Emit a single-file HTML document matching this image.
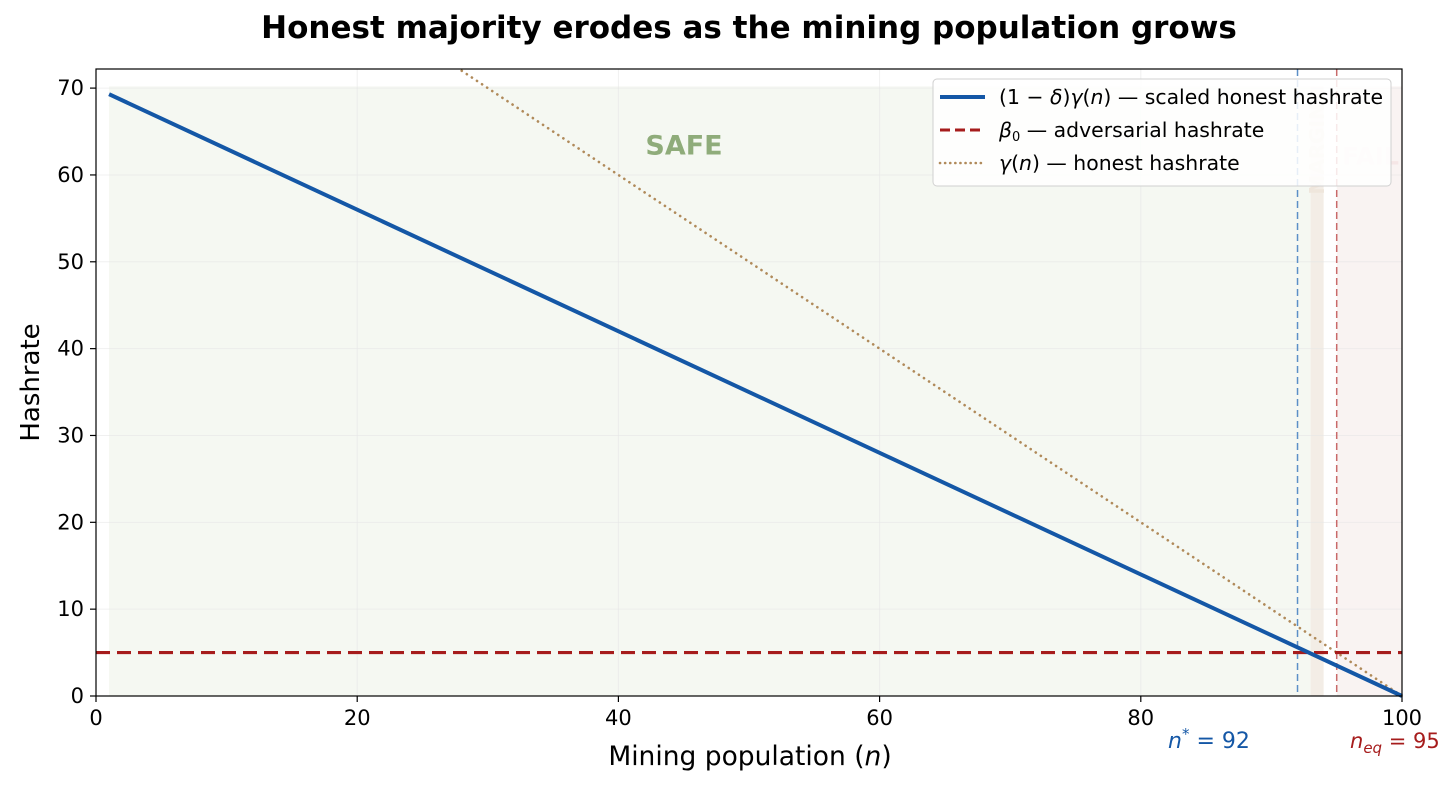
<!DOCTYPE html>
<html><head><meta charset="utf-8"><style>
body{margin:0;background:#fff;font-family:"DejaVu Sans","Liberation Sans",sans-serif}
svg text{font-family:"DejaVu Sans","Liberation Sans",sans-serif}
</style></head><body>
<svg id="c" width="1456" height="788" xmlns="http://www.w3.org/2000/svg"></svg>
<script>
const nVals=[1,100];
const scaledHonest=[69.3,0];
const gammaN=[0,28,100];
const gammaVals=[100,72,0];
const beta0=5;
const nStar=92, nEq=95;
const xTicks=[0,20,40,60,80,100];
const yTicks=[0,10,20,30,40,50,60,70];
const L=96,R=1402,T=69,B=696,XMAX=100,YMAX=72.2;
const X=v=>L+(v/XMAX)*(R-L), Y=v=>B-(v/YMAX)*(B-T);
const s=document.getElementById('c');const NS='http://www.w3.org/2000/svg';
function el(t,a,txt){const e=document.createElementNS(NS,t);for(const k in a)e.setAttribute(k,a[k]);if(txt!=null)e.textContent=txt;s.appendChild(e);return e;}
let e;
e=el('rect',{x:X(1),y:Y(70.2),width:X(93)-X(1),height:Y(0)-Y(70.2),fill:'#f5f8f2'});


e=el('rect',{x:X(93),y:Y(70.2),width:X(94)-X(93),height:Y(0)-Y(70.2),fill:'#f3ede6'});


e=el('rect',{x:X(nEq),y:Y(70.2),width:X(100)-X(nEq),height:Y(0)-Y(70.2),fill:'#f9f3f2'});


xTicks.forEach(t=>{e=el('line',{x1:X(t),x2:X(t),y1:T,y2:B,stroke:'#e6e6e6','stroke-width':1,'stroke-opacity':0.6});

});
yTicks.forEach(t=>{e=el('line',{x1:L,x2:R,y1:Y(t),y2:Y(t),stroke:'#e6e6e6','stroke-width':1,'stroke-opacity':0.6});

});
e=el('text',{x:684,y:147,'font-size':27,'font-weight':'bold',fill:'#8fac7a','text-anchor':'middle','dominant-baseline':'middle'},'SAFE');


e=el('text',{x:0,y:0,'font-size':20,'font-weight':'bold',fill:'#efe6dc','text-anchor':'middle',transform:`translate(${X(93.5)+7},${Y(63)}) rotate(-90)`},'MARGIN');


e=el('text',{x:X(97.6),y:Y(62),'font-size':24,'font-weight':'bold',fill:'#f5e6e6','text-anchor':'middle','dominant-baseline':'middle'},'FAIL');


e=el('line',{x1:X(nStar),x2:X(nStar),y1:T,y2:B,stroke:'#5b8fc7','stroke-width':1.5,'stroke-dasharray':'7,4'});


e=el('line',{x1:X(nEq),x2:X(nEq),y1:T,y2:B,stroke:'#c96a6a','stroke-width':1.5,'stroke-dasharray':'7,4'});


e=el('polyline',{points:gammaN.map((n,i)=>X(n)+','+Y(gammaVals[i])).join(' '),fill:'none',stroke:'#b08a5a','stroke-width':2.6,'stroke-dasharray':'0.1,6','stroke-linecap':'round'});


e=el('line',{x1:L,x2:R,y1:Y(beta0),y2:Y(beta0),stroke:'#a61c1c','stroke-width':3.2,'stroke-dasharray':'14,7'});


e=el('polyline',{points:nVals.map((n,i)=>X(n)+','+Y(scaledHonest[i])).join(' '),fill:'none',stroke:'#1457a6','stroke-width':4});


e=el('rect',{x:L,y:0,width:R-L,height:T,fill:'#fff'});


e=el('rect',{x:L,y:T,width:R-L,height:B-T,fill:'none',stroke:'#000','stroke-width':1.2});


xTicks.forEach(t=>{el('line',{x1:X(t),x2:X(t),y1:B,y2:B+6,stroke:'#000','stroke-width':1.2});
e=el('text',{x:X(t),y:B+29,'font-size':21,'text-anchor':'middle',fill:'#000'},t);

});
yTicks.forEach(t=>{el('line',{x1:L-6,x2:L,y1:Y(t),y2:Y(t),stroke:'#000','stroke-width':1.2});
e=el('text',{x:L-12,y:Y(t)+7,'font-size':21,'text-anchor':'end',fill:'#000'},t);

});
e=el('text',{x:750,y:765,'font-size':26.5,'text-anchor':'middle'});
e.innerHTML='Mining population (<tspan font-style="italic">n</tspan>)';


e=el('text',{x:0,y:0,'font-size':26,'text-anchor':'middle',transform:`translate(39,${(T+B)/2}) rotate(-90)`},'Hashrate');


e=el('text',{x:749,y:38,'font-size':31,'font-weight':'bold','text-anchor':'middle'},'Honest majority erodes as the mining population grows');


e=el('text',{x:1168,y:748,'font-size':22,fill:'#1457a6'});
e.innerHTML='<tspan font-style="italic">n</tspan><tspan font-size="15" dy="-9">*</tspan><tspan dy="9"> = 92</tspan>';


e=el('text',{x:1350,y:748,'font-size':21,fill:'#a61c1c'});
e.innerHTML='<tspan font-style="italic">n</tspan><tspan font-size="15" dy="5" font-style="italic">eq</tspan><tspan dy="-5"> = 95</tspan>';


e=el('rect',{x:933,y:79,width:458,height:107,rx:4,fill:'#fff','fill-opacity':0.85,stroke:'#d0d0d0'});


const lg=[['(1 − <tspan font-style="italic">δ</tspan>)<tspan font-style="italic">γ</tspan>(<tspan font-style="italic">n</tspan>) — scaled honest hashrate','#1457a6','',4],['<tspan font-style="italic">β</tspan><tspan font-size="13" dy="4">0</tspan><tspan dy="-4"> — adversarial hashrate</tspan>','#a61c1c','10,5',3],['<tspan font-style="italic">γ</tspan>(<tspan font-style="italic">n</tspan>) — honest hashrate','#b08a5a','0.1,5',2.6]];
lg.forEach((d,i)=>{const y=97+i*33;
el('line',{x1:940,x2:985,y1:y,y2:y,stroke:d[1],'stroke-width':d[3],'stroke-dasharray':d[2],'stroke-linecap':i==2?'round':'butt'});
e=el('text',{x:999,y:y+7,'font-size':20.4});
e.innerHTML=d[0];

});
</script>
</body></html>
